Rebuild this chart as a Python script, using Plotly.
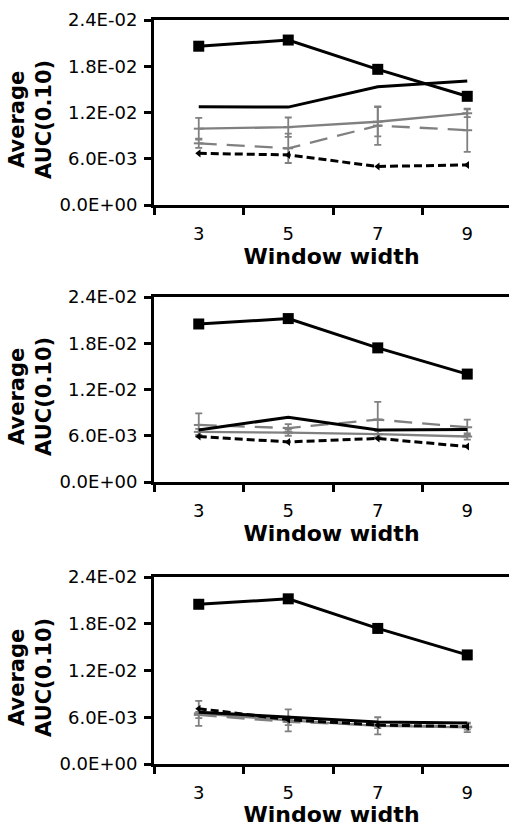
import plotly.graph_objects as go

# Window widths (x categories)
window = [3, 5, 7, 9]

# Values in units of 1E-3 (converted below)
# Panel 1
p1_black_sq = [20.6, 21.4, 17.6, 14.1]
p1_black_solid = [12.75, 12.7, 15.35, 16.1]
p1_gray_solid = [9.9, 10.1, 10.8, 11.9]
p1_gray_solid_err = [1.4, 1.25, 1.9, 0.5]
p1_gray_dash = [8.0, 7.35, 10.3, 9.7]
p1_gray_dash_err = [0.6, 1.9, 2.5, 2.8]
p1_black_dash = [6.7, 6.5, 5.0, 5.2]

# Panel 2
p2_black_sq = [20.5, 21.2, 17.4, 14.0]
p2_black_solid = [6.75, 8.4, 6.75, 6.8]
p2_gray_solid = [6.5, 6.4, 6.2, 5.9]
p2_gray_solid_err = [0.4, 0.4, 0.4, 0.4]
p2_gray_dash = [7.4, 7.0, 8.1, 7.1]
p2_gray_dash_err = [1.5, 0.5, 2.3, 1.0]
p2_black_dash = [5.9, 5.2, 5.65, 4.6]

# Panel 3
p3_black_sq = [20.5, 21.2, 17.4, 14.0]
p3_black_solid = [6.65, 6.0, 5.4, 5.25]
p3_gray_solid = [6.5, 5.6, 4.9, 4.7]
p3_gray_solid_err = [1.6, 1.4, 1.1, 0.6]
p3_gray_dash = [6.3, 5.4, 5.0, 4.8]
p3_gray_dash_err = [0.4, 0.4, 0.4, 0.4]
p3_black_dash = [7.1, 5.7, 5.0, 4.8]

y_tickvals = [0.0, 0.006, 0.012, 0.018, 0.024]
y_ticktext = ["0.0E+00", "6.0E-03", "1.2E-02", "1.8E-02", "2.4E-02"]
x_title = "Window width"
y_title = "Average<br>AUC(0.10)"

GRAY = "#808080"
FONT = "DejaVu Sans"

panels = [
    (p1_black_sq, p1_black_solid, p1_gray_solid, p1_gray_solid_err, p1_gray_dash, p1_gray_dash_err, p1_black_dash),
    (p2_black_sq, p2_black_solid, p2_gray_solid, p2_gray_solid_err, p2_gray_dash, p2_gray_dash_err, p2_black_dash),
    (p3_black_sq, p3_black_solid, p3_gray_solid, p3_gray_solid_err, p3_gray_dash, p3_gray_dash_err, p3_black_dash),
]

def s(v):
    return [a * 1e-3 for a in v]

fig = go.Figure()

H = 827
top_m, bot_m = 20, 63
plot_h = H - top_m - bot_m
pix = [(20, 205), (297, 482), (577, 764)]
domains = [[(H - bot_m - b) / plot_h, (H - bot_m - t) / plot_h] for t, b in pix]

for i, (bsq, bsol, gsol, gsol_e, gdash, gdash_e, bdash) in enumerate(panels):
    xa = "x" if i == 0 else f"x{i+1}"
    ya = "y" if i == 0 else f"y{i+1}"
    common = dict(x=window, xaxis=xa, yaxis=ya, showlegend=False, mode="lines+markers")
    fig.add_trace(go.Scatter(y=s(gdash), line=dict(color=GRAY, width=2.3, dash="18px,10px"),
                             marker=dict(symbol="line-ew", size=7, line=dict(color=GRAY, width=2)),
                             error_y=dict(type="data", array=s(gdash_e), color=GRAY, thickness=1.8, width=3.5),
                             **common))
    fig.add_trace(go.Scatter(y=s(gsol), line=dict(color=GRAY, width=2.3),
                             marker=dict(symbol="line-ew", size=7, line=dict(color=GRAY, width=2)),
                             error_y=dict(type="data", array=s(gsol_e), color=GRAY, thickness=1.8, width=3.5),
                             **common))
    fig.add_trace(go.Scatter(y=s(bdash), line=dict(color="black", width=3, dash="8px,4px"),
                             marker=dict(symbol="triangle-left", size=7, color="black"),
                             **common))
    fig.add_trace(go.Scatter(y=s(bsol), x=window, xaxis=xa, yaxis=ya, showlegend=False, mode="lines",
                             line=dict(color="black", width=3)))
    fig.add_trace(go.Scatter(y=s(bsq), line=dict(color="black", width=3),
                             marker=dict(symbol="square", size=11, color="black"),
                             **common))

    xkey = "xaxis" if i == 0 else f"xaxis{i+1}"
    ykey = "yaxis" if i == 0 else f"yaxis{i+1}"
    fig.layout[xkey] = dict(
        domain=[0, 1], anchor=ya, range=[2, 9.933],
        tickmode="array", tickvals=window, ticktext=[str(w) for w in window],
        ticks="", ticklabelstandoff=10,
        minor=dict(tickmode="array", tickvals=[2, 4, 6, 8], ticks="outside", ticklen=7, tickwidth=2.5, tickcolor="black", showgrid=False),
        showline=True, linecolor="black", linewidth=3, mirror=True,
        showgrid=False, zeroline=False,
        tickfont=dict(family=FONT, size=18, color="black"),
        title=dict(text=f"<b>{x_title}</b>", font=dict(family=FONT, size=22, color="black"), standoff=4),
    )
    fig.layout[ykey] = dict(
        domain=domains[i], anchor=xa, range=[0, 0.024],
        tickmode="array", tickvals=y_tickvals, ticktext=y_ticktext,
        ticks="outside", ticklen=7, tickwidth=2.5, tickcolor="black",
        ticklabelstandoff=3,
        showline=True, linecolor="black", linewidth=3, mirror=False,
        showgrid=False, zeroline=False,
        tickfont=dict(family=FONT, size=18, color="black"),
    )
    fig.add_annotation(text=f"<b>{y_title}</b>", xref="paper", yref=f"{ya} domain",
                       x=(31 - 154) / 355, y=0.46, textangle=-90, showarrow=False,
                       xanchor="center", yanchor="middle",
                       font=dict(family=FONT, size=21, color="black"))

fig.update_layout(
    width=509, height=H,
    margin=dict(l=154, r=0, t=top_m, b=bot_m, pad=0),
    paper_bgcolor="white", plot_bgcolor="white",
)

fig.write_html("out.html", config={"displayModeBar": False},
               post_script="document.body.style.margin='0';document.body.style.overflow='hidden';")
